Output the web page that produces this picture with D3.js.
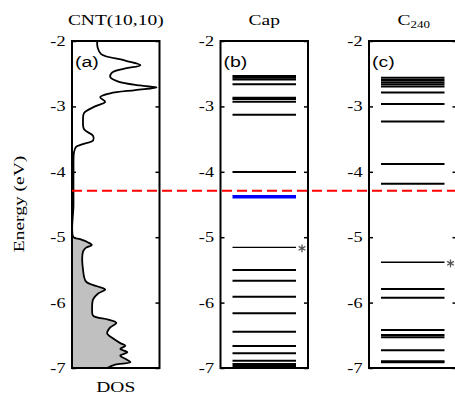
<!DOCTYPE html>
<html>
<head>
<meta charset="utf-8">
<script src="https://cdn.jsdelivr.net/npm/d3@7"></script>
<style>
  html, body { margin: 0; padding: 0; background: #fff; }
  svg { display: block; }
</style>
</head>
<body>
<svg id="chart" width="455" height="397"></svg>
<script>
// ---------------- data ----------------
const energyTicks = [-2, -3, -4, -5, -6, -7];
const panelTitles = ["CNT(10,10)", "Cap", "C"];
const panelTags = ["(a)", "(b)", "(c)"];
const fermiLevel = -4.29;

// DOS of CNT(10,10) (arbitrary units)
const dosEnergy = [-2.00, -2.10, -2.20, -2.30, -2.37, -2.42, -2.48, -2.55, -2.62, -2.68, -2.71, -2.75, -2.80, -2.86, -2.93, -3.00, -3.10, -3.20, -3.35, -3.45, -3.52, -3.58, -3.62, -3.70, -4.00, -4.50, -5.00, -5.03, -5.08, -5.12, -5.16, -5.22, -5.50, -5.68, -5.75, -5.80, -5.86, -5.95, -6.10, -6.20, -6.26, -6.31, -6.38, -6.47, -6.55, -6.62, -6.66, -6.71, -6.76, -6.81, -6.86, -6.91, -6.95, -7.00];
const dosValue  = [0.287, 0.293, 0.333, 0.609, 0.782, 0.609, 0.460, 0.437, 0.529, 0.780, 0.966, 0.724, 0.437, 0.322, 0.379, 0.264, 0.138, 0.126, 0.138, 0.241, 0.241, 0.115, 0.046, 0.023, 0.017, 0.017, 0.017, 0.092, 0.184, 0.226, 0.161, 0.126, 0.126, 0.161, 0.287, 0.379, 0.299, 0.241, 0.230, 0.241, 0.414, 0.506, 0.437, 0.402, 0.471, 0.552, 0.609, 0.552, 0.632, 0.552, 0.609, 0.667, 0.494, 0.402];
const dosFilledBelow = -5.0;

// energy levels (eV)
const capLevels = [-2.535, -2.561, -2.589, -2.662, -2.867, -2.887, -2.929, -3.127, -4.003, -5.155, -5.50, -5.665, -5.91, -6.164, -6.445, -6.664, -6.775, -6.888, -6.939, -6.97];
const capHighlight = [-4.38];
const capStar = [-5.155];
const c240Levels = [-2.561, -2.596, -2.632, -2.662, -2.696, -2.787, -2.963, -3.231, -3.881, -4.182, -5.384, -5.792, -5.925, -6.419, -6.495, -6.53, -6.73, -6.895, -6.912];
const c240Star = [-5.384];

// ---------------- drawing ----------------
const svg = d3.select("#chart");
const SX = 1.3; // horizontal stretch of glyphs in the reference
const serif = "'Liberation Serif', 'Times New Roman', serif";
const sans = "'Liberation Sans', Arial, sans-serif";

const y = d3.scaleLinear().domain([-7, -2]).range([368, 41]);
const panelX = d3.scaleLinear().domain([0, 1]).range([72, 220.5]);
const panelW = 87.5;

function stretchedText(g, x, yy, txt, size, family, anchor) {
  return g.append("text")
    .attr("transform", `translate(${x},${yy}) scale(${SX},1)`)
    .attr("text-anchor", anchor || "middle")
    .attr("font-family", family)
    .attr("font-size", size)
    .attr("fill", "#000")
    .text(txt);
}

const panels = [0, 1, 2].map(i => {
  const x0 = panelX(i);
  const g = svg.append("g").attr("transform", `translate(${x0},0)`);
  // left axis with labels
  const axL = d3.axisLeft(y).tickValues(energyTicks).tickFormat(d3.format("d"))
    .tickSizeInner(-4).tickSizeOuter(0).tickPadding(5);
  const gl = g.append("g").call(axL);
  gl.select(".domain").remove();
  gl.selectAll(".tick line").attr("stroke", "#000").attr("stroke-width", 1.5);
  gl.selectAll(".tick text")
    .attr("font-family", serif).attr("font-size", 14).attr("fill", "#000")
    .attr("transform", `scale(${SX},1)`)
    .text(d => String(d).replace("\u2212", "-"));
  // right axis ticks
  const axR = d3.axisRight(y).tickValues(energyTicks).tickFormat("")
    .tickSizeInner(-4).tickSizeOuter(0);
  const gr = g.append("g").attr("transform", `translate(${panelW},0)`).call(axR);
  gr.select(".domain").remove();
  gr.selectAll(".tick line").attr("stroke", "#000").attr("stroke-width", 1.5);
  return { g, x0 };
});

// ---- panel (a): DOS ----
const dosData = dosEnergy.map((e, i) => ({ e, v: dosValue[i] }));
const xDos = d3.scaleLinear().domain([0, 1]).range([0, panelW]);
const ga = panels[0].g;
const filled = dosData.filter(d => d.e <= dosFilledBelow);
ga.append("path")
  .datum(filled)
  .attr("fill", "#c0c0c0")
  .attr("d", d3.area().y(d => y(d.e)).x0(xDos(0)).x1(d => xDos(d.v)).curve(d3.curveCatmullRom));
ga.append("path")
  .datum(dosData)
  .attr("fill", "none").attr("stroke", "#000").attr("stroke-width", 1.8)
  .attr("d", d3.line().y(d => y(d.e)).x(d => xDos(d.v)).curve(d3.curveCatmullRom));

// ---- panels (b), (c): levels ----
const xLev = d3.scaleLinear().domain([0, 1]).range([12, panelW - 12]);
const asterisk = d3.symbol().type(d3.symbolAsterisk).size(42);
function drawLevels(g, levels, stars) {
  g.selectAll("line.level").data(levels).join("line")
    .attr("class", "level")
    .attr("x1", xLev(0)).attr("x2", xLev(1))
    .attr("y1", d => y(d)).attr("y2", d => y(d))
    .attr("stroke", "#000")
    .attr("stroke-width", d => stars.includes(d) ? 1.4 : 2);
  g.selectAll("path.star").data(stars).join("path")
    .attr("class", "star")
    .attr("transform", d => `translate(${xLev(1) + 6},${y(d) + 1})`)
    .attr("d", asterisk)
    .attr("fill", "none").attr("stroke", "#555").attr("stroke-width", 1.3);
}
drawLevels(panels[1].g, capLevels, capStar);
drawLevels(panels[2].g, c240Levels, c240Star);
panels[1].g.selectAll("line.hl").data(capHighlight).join("line")
  .attr("class", "hl")
  .attr("x1", xLev(0)).attr("x2", xLev(1))
  .attr("y1", d => y(d)).attr("y2", d => y(d))
  .attr("stroke", "#0000ff").attr("stroke-width", 3.5);

// frames
panels.forEach(p => {
  p.g.append("rect")
    .attr("x", 0).attr("y", y(-2)).attr("width", panelW).attr("height", y(-7) - y(-2))
    .attr("fill", "none").attr("stroke", "#000").attr("stroke-width", 2);
});

// Fermi level (red dashed)
svg.append("line")
  .attr("x1", panelX(0)).attr("x2", 455)
  .attr("y1", y(fermiLevel)).attr("y2", y(fermiLevel))
  .attr("stroke", "#ff0000").attr("stroke-width", 2)
  .attr("stroke-dasharray", "10,5");

// titles and tags
panels.forEach((p, i) => {
  const cx = panelW / 2;
  if (i < 2) {
    stretchedText(p.g, cx, 25, panelTitles[i], 15, serif);
  } else {
    const t = p.g.append("text")
      .attr("transform", `translate(${cx + 1},25) scale(${SX},1)`)
      .attr("text-anchor", "middle")
      .attr("font-family", serif).attr("font-size", 15).attr("fill", "#000");
    t.append("tspan").text(panelTitles[i]);
    t.append("tspan").attr("font-size", 10).attr("dy", 3).text("240");
  }
  stretchedText(p.g, 3, 67, panelTags[i], 15, sans, "start");
});

// axis titles
svg.append("text")
  .attr("transform", `translate(24,204) rotate(-90) scale(${SX},1)`)
  .attr("text-anchor", "middle")
  .attr("font-family", serif).attr("font-size", 15).attr("fill", "#000")
  .text("Energy (eV)");
stretchedText(panels[0].g, panelW / 2, 392, "DOS", 15, serif);
</script>
</body>
</html>
